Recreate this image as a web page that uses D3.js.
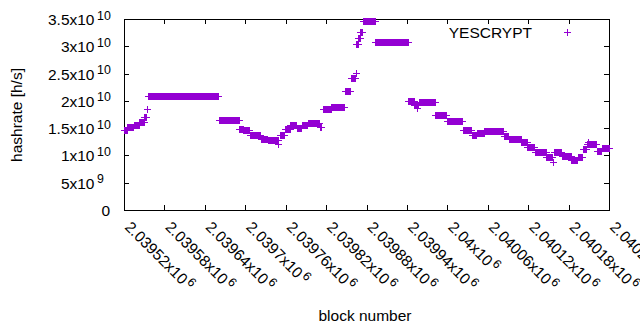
<!DOCTYPE html>
<html>
<head>
<meta charset="utf-8">
<script src="https://cdn.jsdelivr.net/npm/d3@7"></script>
<style>
  body { margin: 0; background: #fff; }
  text { font-family: "Liberation Sans", Arial, sans-serif; fill: #000; }
</style>
</head>
<body>
<svg id="chart" width="640" height="330"></svg>
<script>
// Hashrate is constant between difficulty changes, so the series is kept as runs of blocks
const segStart = [2039520, 2039525, 2039535, 2039543, 2039550, 2039554, 2039555, 2039661, 2039691, 2039697,
  2039707, 2039723, 2039734, 2039749, 2039751, 2039759, 2039767, 2039777, 2039784, 2039793,
  2039811, 2039815, 2039828, 2039848, 2039857, 2039864, 2039865, 2039868, 2039871, 2039875,
  2039893, 2039942, 2039951, 2039955, 2039958, 2039982, 2039999, 2040023, 2040036, 2040044,
  2040055, 2040084, 2040091, 2040110, 2040119, 2040130, 2040147, 2040157, 2040159, 2040170,
  2040184, 2040194, 2040201, 2040207, 2040209, 2040222, 2040229];
const segEnd = [2039524, 2039534, 2039542, 2039549, 2039552, 2039554, 2039659, 2039690, 2039696, 2039706,
  2039722, 2039733, 2039748, 2039749, 2039758, 2039766, 2039776, 2039783, 2039792, 2039810,
  2039813, 2039827, 2039847, 2039856, 2039863, 2039864, 2039867, 2039870, 2039874, 2039892,
  2039941, 2039950, 2039957, 2039955, 2039981, 2039998, 2040022, 2040035, 2040043, 2040054,
  2040083, 2040090, 2040109, 2040118, 2040129, 2040146, 2040156, 2040157, 2040169, 2040183,
  2040193, 2040200, 2040206, 2040221, 2040209, 2040228, 2040240];
const segRate = [1.46e10, 1.53e10, 1.55e10, 1.62e10, 1.70e10, 1.85e10, 2.09e10, 1.645e10, 1.49e10, 1.46e10,
  1.38e10, 1.31e10, 1.28e10, 1.21e10, 1.37e10, 1.49e10, 1.56e10, 1.51e10, 1.55e10, 1.60e10,
  1.52e10, 1.85e10, 1.89e10, 2.18e10, 2.41e10, 2.51e10, 3.05e10, 3.16e10, 3.26e10, 3.46e10,
  3.075e10, 1.99e10, 1.93e10, 1.86e10, 1.97e10, 1.75e10, 1.635e10, 1.47e10, 1.38e10, 1.41e10,
  1.445e10, 1.35e10, 1.31e10, 1.25e10, 1.16e10, 1.055e10, 0.965e10, 0.885e10, 1.06e10, 0.99e10,
  0.925e10, 0.98e10, 1.12e10, 1.21e10, 1.25e10, 1.08e10, 1.14e10];

const seriesName = "YESCRYPT";

const xTicks = [2039520, 2039580, 2039640, 2039700, 2039760, 2039820, 2039880,
  2039940, 2040000, 2040060, 2040120, 2040180, 2040240];
const xTickLabels = ["2.03952x10", "2.03958x10", "2.03964x10", "2.0397x10", "2.03976x10", "2.03982x10",
  "2.03988x10", "2.03994x10", "2.04x10", "2.04006x10", "2.04012x10", "2.04018x10", "2.04024x10"];
const xTickExp = "6";

const yTicks = [0, 5e9, 1e10, 1.5e10, 2e10, 2.5e10, 3e10, 3.5e10];
const yTickLabels = ["0", "5x10", "1x10", "1.5x10", "2x10", "2.5x10", "3x10", "3.5x10"];
const yTickExp = ["", "9", "10", "10", "10", "10", "10", "10"];

const COLOR = "#9400d3";
const FONT = 15.5;
const SUP = 12.4;
const plot = { left: 124, right: 609, top: 19, bottom: 210 };

const svg = d3.select("#chart");

const x = d3.scaleLinear().domain([xTicks[0], xTicks[xTicks.length - 1]]).range([plot.left, plot.right]);
const y = d3.scaleLinear().domain([0, 3.5e10]).range([plot.bottom, plot.top]);

// tics on all four sides, pointing inwards
svg.append("g").attr("transform", `translate(0,${plot.bottom})`)
  .call(d3.axisBottom(x).tickValues(xTicks).tickSize(-5).tickSizeOuter(0).tickFormat(""));
svg.append("g").attr("transform", `translate(0,${plot.top})`)
  .call(d3.axisTop(x).tickValues(xTicks).tickSize(-5).tickSizeOuter(0).tickFormat(""));
svg.append("g").attr("transform", `translate(${plot.left},0)`)
  .call(d3.axisLeft(y).tickValues(yTicks).tickSize(-5).tickSizeOuter(0).tickFormat(""));
svg.append("g").attr("transform", `translate(${plot.right},0)`)
  .call(d3.axisRight(y).tickValues(yTicks).tickSize(-5).tickSizeOuter(0).tickFormat(""));
svg.selectAll(".domain, .tick line").attr("stroke", "#000").attr("shape-rendering", "crispEdges");

// y tick labels with superscript exponent
yTicks.forEach((v, i) => {
  const ty = y(v);
  if (!yTickExp[i]) {
    svg.append("text").attr("x", 110).attr("y", ty + 6).attr("text-anchor", "end")
      .attr("font-size", FONT).text(yTickLabels[i]);
    return;
  }
  svg.append("text").attr("x", 94.5).attr("y", ty + 6).attr("text-anchor", "end")
    .attr("font-size", FONT).text(yTickLabels[i]);
  svg.append("text").attr("x", 97).attr("y", ty + 0.5)
    .attr("font-size", SUP).text(yTickExp[i]);
});

// x tick labels, rotated by 45 degrees
xTicks.forEach((v, i) => {
  const t = svg.append("text")
    .attr("transform", `translate(${x(v)},228) rotate(45)`)
    .attr("font-size", FONT);
  t.append("tspan").text(xTickLabels[i]);
  t.append("tspan").attr("dx", 2).attr("dy", -5.5).attr("font-size", SUP).text(xTickExp);
});

// axis titles
svg.append("text").attr("transform", "translate(22,115) rotate(-90)")
  .attr("text-anchor", "middle").attr("font-size", FONT).text("hashrate [h/s]");
svg.append("text").attr("x", 365).attr("y", 320.5)
  .attr("text-anchor", "middle").attr("font-size", FONT).text("block number");

// one point per block
const points = [];
segStart.forEach((s, i) => {
  for (let b = s; b <= segEnd[i]; b++) points.push({ block: b, rate: segRate[i] });
});

const plus = "M-3.5,0H3.5M0,-3.5V3.5";
svg.append("g")
  .selectAll("path")
  .data(points)
  .join("path")
  .attr("d", plus)
  .attr("transform", (d) => `translate(${Math.round(x(d.block)) + 0.5},${Math.round(y(d.rate)) + 0.5})`)
  .attr("fill", "none")
  .attr("stroke", COLOR)
  .attr("stroke-width", 1)
  .attr("shape-rendering", "crispEdges");

// key
svg.append("text").attr("x", 532).attr("y", 37.5).attr("text-anchor", "end")
  .attr("font-size", FONT).text(seriesName);
svg.append("path").attr("d", plus).attr("transform", "translate(567.5,32.5)")
  .attr("fill", "none").attr("stroke", COLOR).attr("shape-rendering", "crispEdges");
</script>
</body>
</html>
